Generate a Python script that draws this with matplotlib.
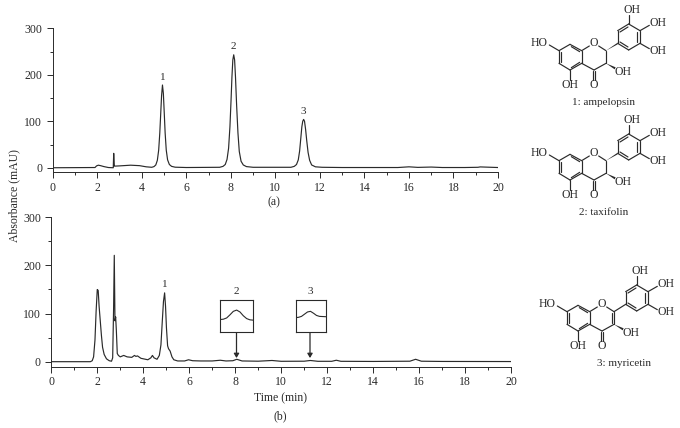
import matplotlib
matplotlib.use('Agg')
import matplotlib.pyplot as plt
from matplotlib.ticker import MultipleLocator
from matplotlib.patches import Polygon

plt.rcParams['font.family'] = ['Liberation Serif', 'DejaVu Serif']
plt.rcParams['font.size'] = 8.5

W, H = 680, 428
INK = '#2a2a2a'

# chromatogram (a)
time_a = [0, 1.9, 1.97, 2.05, 2.15, 2.3, 2.5, 2.72, 2.74, 2.75, 2.77, 2.79, 3.0, 3.5, 3.9, 4.2, 4.45,
          4.55, 4.63, 4.7, 4.76, 4.81, 4.85, 4.89, 4.93, 4.97, 5.01, 5.05, 5.1, 5.16, 5.24, 5.34, 5.5, 6,
          7.5, 7.65, 7.75, 7.83, 7.9, 7.96, 8.01, 8.05, 8.09, 8.13, 8.17, 8.21, 8.26, 8.32, 8.38, 8.46,
          8.56, 8.7, 9, 10.7, 10.85, 10.95, 11.03, 11.09, 11.14, 11.19, 11.23, 11.27, 11.31, 11.36, 11.41,
          11.47, 11.54, 11.63, 11.8, 12.1, 13, 15.5, 16.0, 16.4, 17, 17.5, 18.5, 19.1, 19.2, 20]
abs_a = [0, 0.5, 4, 5.5, 4.5, 2.5, 0.5, 0, 31, 20, 3.5, 3.5, 4, 5.5, 4.5, 2, 1,
         2.5, 6, 16, 38, 75, 115, 155, 178, 160, 118, 75, 38, 17, 7, 3, 1.2, 0.5,
         1, 3, 7, 18, 42, 88, 145, 195, 232, 243, 232, 195, 135, 75, 35, 14,
         6, 2.5, 1, 1, 3, 7, 17, 36, 62, 88, 100, 104, 100, 82, 58,
         33, 16, 6, 2, 1, 0.5, 0.5, 2, 0.8, 1.5, 0.5, 0.5, 1, 1.8, 0.5]

# chromatogram (b)
time_b = [0, 1.7, 1.78, 1.84, 1.9, 1.95, 2.0, 2.04, 2.08, 2.13, 2.18, 2.23, 2.3, 2.4, 2.52, 2.62, 2.67, 2.71,
          2.74, 2.77, 2.8, 2.83, 2.87, 2.92, 3.0, 3.15, 3.3, 3.5, 3.62, 3.68, 3.75, 3.9, 4.2, 4.33, 4.4, 4.47,
          4.6, 4.7, 4.77, 4.83, 4.88, 4.93, 4.97, 5.01, 5.06, 5.1, 5.17, 5.25, 5.33, 5.5, 5.8, 5.97, 6.15,
          6.5, 7.0, 7.35, 7.6, 7.9, 8.07, 8.3, 9.0, 9.6, 10.0, 11.0, 11.27, 11.6, 12.2, 12.4, 12.6, 14,
          15.6, 15.85, 16.1, 17, 20]
abs_b = [0, 0, 2, 10, 45, 105, 150, 148, 115, 85, 55, 30, 15, 6, 2, 1, 8, 110,
         221, 85, 93, 65, 17, 13, 10, 13, 10, 9, 13, 11, 12, 7, 4, 8, 13, 8,
         5, 13, 35, 85, 125, 143, 115, 70, 33, 27, 22, 10, 4, 1.5, 1.5, 4, 2,
         1.5, 1.5, 3, 1.5, 2, 5, 1.5, 1, 2.5, 0.8, 1, 2.5, 0.8, 0.8, 3, 0.8, 0.5,
         1, 5, 1, 0.5, 0.3]

# enlarged views of the small peaks in (b)
inset2_x = [0, 0.1, 0.2, 0.3, 0.4, 0.5, 0.6, 0.7, 0.8, 0.9, 1]
inset2_y = [0.38, 0.39, 0.43, 0.53, 0.64, 0.68, 0.62, 0.5, 0.41, 0.37, 0.36]
inset3_x = [0, 0.1, 0.2, 0.3, 0.4, 0.5, 0.6, 0.7, 0.8, 1]
inset3_y = [0.44, 0.45, 0.48, 0.55, 0.62, 0.64, 0.58, 0.51, 0.48, 0.47]

peak_labels_a = ['1', '2', '3']
peak_x_a = [4.93, 8.13, 11.27]
peak_y_a = [178, 243, 104]
compound_names = ['1: ampelopsin', '2: taxifolin', '3: myricetin']


def px_axes(fig, left, top, right, bottom):
    return fig.add_axes([left / W, 1 - bottom / H, (right - left) / W, (bottom - top) / H])


def style_chrom(ax):
    ax.set_xlim(0, 20)
    ax.set_ylim(-10, 300)
    ax.spines['top'].set_visible(False)
    ax.spines['right'].set_visible(False)
    for s in ['left', 'bottom']:
        ax.spines[s].set_linewidth(0.7)
        ax.spines[s].set_color(INK)
    ax.patch.set_alpha(0)
    ax.set_xticks(range(0, 21, 2))
    ax.set_yticks([0, 100, 200, 300])
    ax.xaxis.set_minor_locator(MultipleLocator(1))
    ax.yaxis.set_minor_locator(MultipleLocator(50))
    ax.tick_params(which='major', length=4, width=0.7, color=INK, labelcolor=INK, labelsize=8.5, pad=3.5)
    ax.tick_params(axis='x', which='major', pad=3)
    ax.tick_params(which='minor', length=2.5, width=0.7, color=INK)


def draw_molecule(ov, dx, dy, flavonol=False):
    def p(x, y):
        return (520 + dx + x / 3, dy + y / 3)

    def bond(a, b, lw=0.85):
        ov.plot(*zip(p(*a), p(*b)), color=INK, lw=lw, solid_capstyle='round')

    ring_a = [(117, 152), (150, 133), (185, 152), (185, 190), (150, 210), (117, 190)]
    for i in range(6):
        bond(ring_a[i], ring_a[(i + 1) % 6])
    bond((124, 156), (124, 186))
    bond((154, 140), (179, 155))
    bond((154, 203), (179, 187))

    ring_b = [(293, 130), (293, 92), (326, 72), (360, 92), (360, 130), (326, 150)]
    for i in range(6):
        bond(ring_b[i], ring_b[(i + 1) % 6])
    bond((300, 96), (324, 81))
    bond((352, 96), (352, 127))
    bond((300, 126), (324, 141))

    bond((185, 152), (208, 138))
    bond((236, 138), (258, 152))
    bond((258, 152), (258, 190))
    bond((258, 190), (222, 210))
    bond((222, 210), (185, 190))
    bond((219, 212), (219, 240))
    bond((225, 212), (225, 240))
    bond((150, 210), (150, 240))
    bond((117, 152), (88, 135))
    bond((326, 72), (326, 45))
    bond((360, 92), (388, 76))
    bond((360, 130), (388, 146))
    if flavonol:
        bond((258, 152), (293, 130))
        bond((252, 156), (252, 186))
    else:
        # stereo bond to ring B
        ov.add_patch(Polygon([p(258, 152), p(293, 128), p(293, 133)], closed=True, color=INK, lw=0))
    # wedge to the 3-OH
    ov.add_patch(Polygon([p(258, 190), p(287, 202), p(284, 208)], closed=True, color=INK, lw=0))

    for txt, x, y in [('HO', 58, 130), ('O', 222, 128), ('OH', 150, 255), ('O', 222, 255),
                      ('OH', 310, 217), ('OH', 337, 30), ('OH', 414, 68), ('OH', 414, 153)]:
        px, py = p(x, y)
        ov.text(px, py, txt, ha='center', va='center', fontsize=8.5, color=INK)


fig = plt.figure(figsize=(W / 100, H / 100), dpi=100)

ax_a = px_axes(fig, 52.7, 28.3, 498, 172.4)
ax_a.plot(time_a, abs_a, color=INK, lw=0.85)
style_chrom(ax_a)
for lab, x, y in zip(peak_labels_a, peak_x_a, peak_y_a):
    ax_a.annotate(lab, (x, y), xytext=(0, 2.5), textcoords='offset points', ha='center', va='bottom',
                  fontsize=8, color=INK)

ax_b = px_axes(fig, 51.3, 217.3, 511, 366.5)
ax_b.plot(time_b, abs_b, color=INK, lw=0.85)
style_chrom(ax_b)
ax_b.annotate('1', (4.93, 143), xytext=(0, 2.5), textcoords='offset points', ha='center', va='bottom',
              fontsize=8, color=INK)

# whole-figure pixel overlay for text, arrows and structures
ov = fig.add_axes([0, 0, 1, 1], zorder=5)
ov.set_xlim(0, W)
ov.set_ylim(H, 0)
ov.axis('off')

ov.text(14, 196, 'Absorbance (mAU)', rotation=90, ha='center', va='center', fontsize=8.5, color=INK)
ov.text(274, 202, '(a)', ha='center', va='center', fontsize=8.5, color=INK)
ov.text(280, 398, 'Time (min)', ha='center', va='center', fontsize=8.5, color=INK)
ov.text(280, 416, '(b)', ha='center', va='center', fontsize=8.5, color=INK)

for lab, x0, x1, cx, xs, ys in [('2', 220, 253.3, 236.5, inset2_x, inset2_y),
                                ('3', 295.5, 325.5, 310, inset3_x, inset3_y)]:
    iax = px_axes(fig, x0, 300, x1, 331.5)
    iax.set_zorder(6)
    iax.plot(xs, ys, color=INK, lw=0.8)
    iax.set_xlim(0, 1)
    iax.set_ylim(0, 1)
    iax.set_xticks([])
    iax.set_yticks([])
    for s in iax.spines.values():
        s.set_linewidth(0.8)
        s.set_color(INK)
    ov.text(cx, 292, lab, ha='center', va='center', fontsize=8, color=INK)
    ov.annotate('', xy=(cx, 358), xytext=(cx, 331.5),
                arrowprops=dict(arrowstyle='-|>,head_width=0.18,head_length=0.3', color=INK, lw=0.9,
                                shrinkA=0, shrinkB=0))

draw_molecule(ov, 0, 0)
draw_molecule(ov, 0, 110)
draw_molecule(ov, 8, 261, flavonol=True)

for name, x, y in zip(compound_names, [604, 604, 624], [102, 212, 363]):
    ov.text(x, y, name, ha='center', va='center', fontsize=8, color=INK)

fig.savefig('out.png', dpi=100)
